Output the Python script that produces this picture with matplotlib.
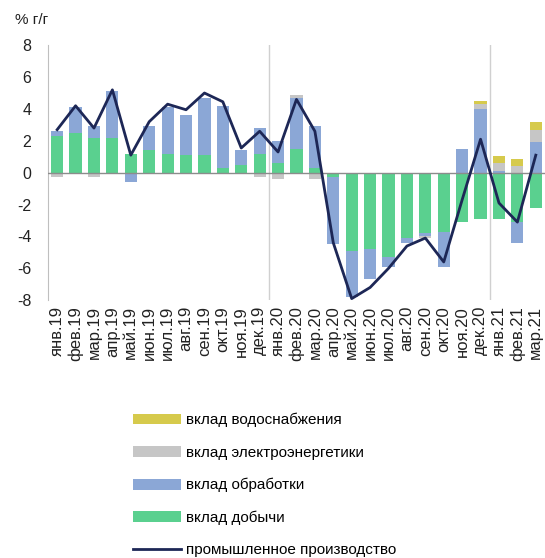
import numpy as np
import matplotlib
matplotlib.use("Agg")
import matplotlib.pyplot as plt
from matplotlib.patches import Patch
from matplotlib.lines import Line2D

plt.rcParams['font.family'] = ['Liberation Sans', 'DejaVu Sans']

months = ["янв.19", "фев.19", "мар.19", "апр.19", "май.19", "июн.19", "июл.19",
          "авг.19", "сен.19", "окт.19", "ноя.19", "дек.19", "янв.20", "фев.20",
          "мар.20", "апр.20", "май.20", "июн.20", "июл.20", "авг.20", "сен.20",
          "окт.20", "ноя.20", "дек.20", "янв.21", "фев.21", "мар.21"]

mining = [2.3, 2.5, 2.2, 2.2, 1.2, 1.4, 1.2, 1.1, 1.1, 0.3, 0.5, 1.2, 0.6, 1.5,
          0.3, -0.3, -4.9, -4.8, -5.3, -4.1, -3.8, -3.7, -3.1, -2.9, -2.9, -3.1, -2.2]
manufacturing = [0.3, 1.6, 0.7, 2.9, -0.6, 1.5, 2.9, 2.5, 3.6, 3.9, 0.9, 1.6, 1.4, 3.2,
                 2.6, -4.2, -2.9, -1.9, -0.6, -0.3, -0.2, -2.2, 1.5, 4.0, 0.1, -1.3, 1.9]
electricity = [-0.3, 0.0, -0.3, 0.0, 0.0, 0.0, 0.0, 0.0, 0.0, 0.0, 0.0, -0.3, -0.4, 0.2,
               -0.4, 0.0, 0.0, 0.0, 0.0, 0.0, -0.1, 0.0, 0.0, 0.3, 0.5, 0.4, 0.8]
water = [0.0, 0.0, 0.0, 0.0, 0.0, 0.0, 0.0, 0.0, 0.0, 0.0, 0.0, 0.0, 0.0, 0.0,
         0.0, 0.0, 0.0, 0.0, 0.0, 0.0, 0.0, 0.0, 0.0, 0.2, 0.45, 0.45, 0.5]
industry = [2.7, 4.2, 2.8, 5.2, 1.1, 3.2, 4.3, 3.95, 5.0, 4.45, 1.55, 2.6, 1.3, 4.6,
            2.6, -4.4, -7.9, -7.2, -6.0, -4.6, -4.1, -5.6, -1.7, 2.1, -1.9, -3.1, 1.1]

series = [
    ("вклад добычи", mining, "#5ad08f"),
    ("вклад обработки", manufacturing, "#8ba7d6"),
    ("вклад электроэнергетики", electricity, "#c6c6c6"),
    ("вклад водоснабжения", water, "#d6ca4c"),
]
line_label = "промышленное производство"
line_color = "#1d2756"

fig = plt.figure(figsize=(5.45, 5.58), dpi=100)
ax = fig.add_axes([0.088, 0.462, 0.912, 0.457])

x = np.arange(len(months))
pos_bottom = np.zeros(len(months))
neg_bottom = np.zeros(len(months))
for label, vals, color in series:
    v = np.array(vals, dtype=float)
    b = np.where(v >= 0, pos_bottom, neg_bottom)
    ax.bar(x, v, width=0.66, bottom=b, color=color, edgecolor='none', zorder=2)
    pos_bottom += np.where(v >= 0, v, 0)
    neg_bottom += np.where(v < 0, v, 0)

ax.plot(x, industry, color=line_color, lw=2.0, zorder=4)

ax.axhline(0, color="#8c8c8c", lw=1.0, zorder=3)
for xv in (11.5, 23.5):
    ax.axvline(xv, color="#d0d0d0", lw=1.0, zorder=1)

ax.set_xlim(-0.5, len(months) - 0.5)
ax.set_ylim(-8, 8)
ax.set_yticks(range(-8, 9, 2))
ax.set_yticklabels([str(t) for t in range(-8, 9, 2)], fontsize=11.5)
ax.set_xticks(x)
ax.set_xticklabels(months, rotation=90, fontsize=12)
ax.tick_params(axis='both', length=0, colors='#222222')
ax.tick_params(axis='y', pad=12)
ax.tick_params(axis='x', pad=4)
for s in ("top", "right", "bottom"):
    ax.spines[s].set_visible(False)
ax.spines["left"].set_color("#bfbfbf")

fig.text(0.027, 0.965, "% г/г", fontsize=11, ha='left', va='center', color='#222222')

handles = [Patch(facecolor=c, edgecolor='none') for _, _, c in series[::-1]]
labels = [l for l, _, _ in series[::-1]]
handles.append(Line2D([0], [0], color=line_color, lw=2.0))
labels.append(line_label)
fig.legend(handles, labels, loc='upper left', bbox_to_anchor=(0.232, 0.271),
           frameon=False, fontsize=11, handlelength=3.2, handleheight=0.72,
           labelspacing=1.2, handletextpad=0.3, borderaxespad=0)

fig.savefig("out.png", dpi=100)
